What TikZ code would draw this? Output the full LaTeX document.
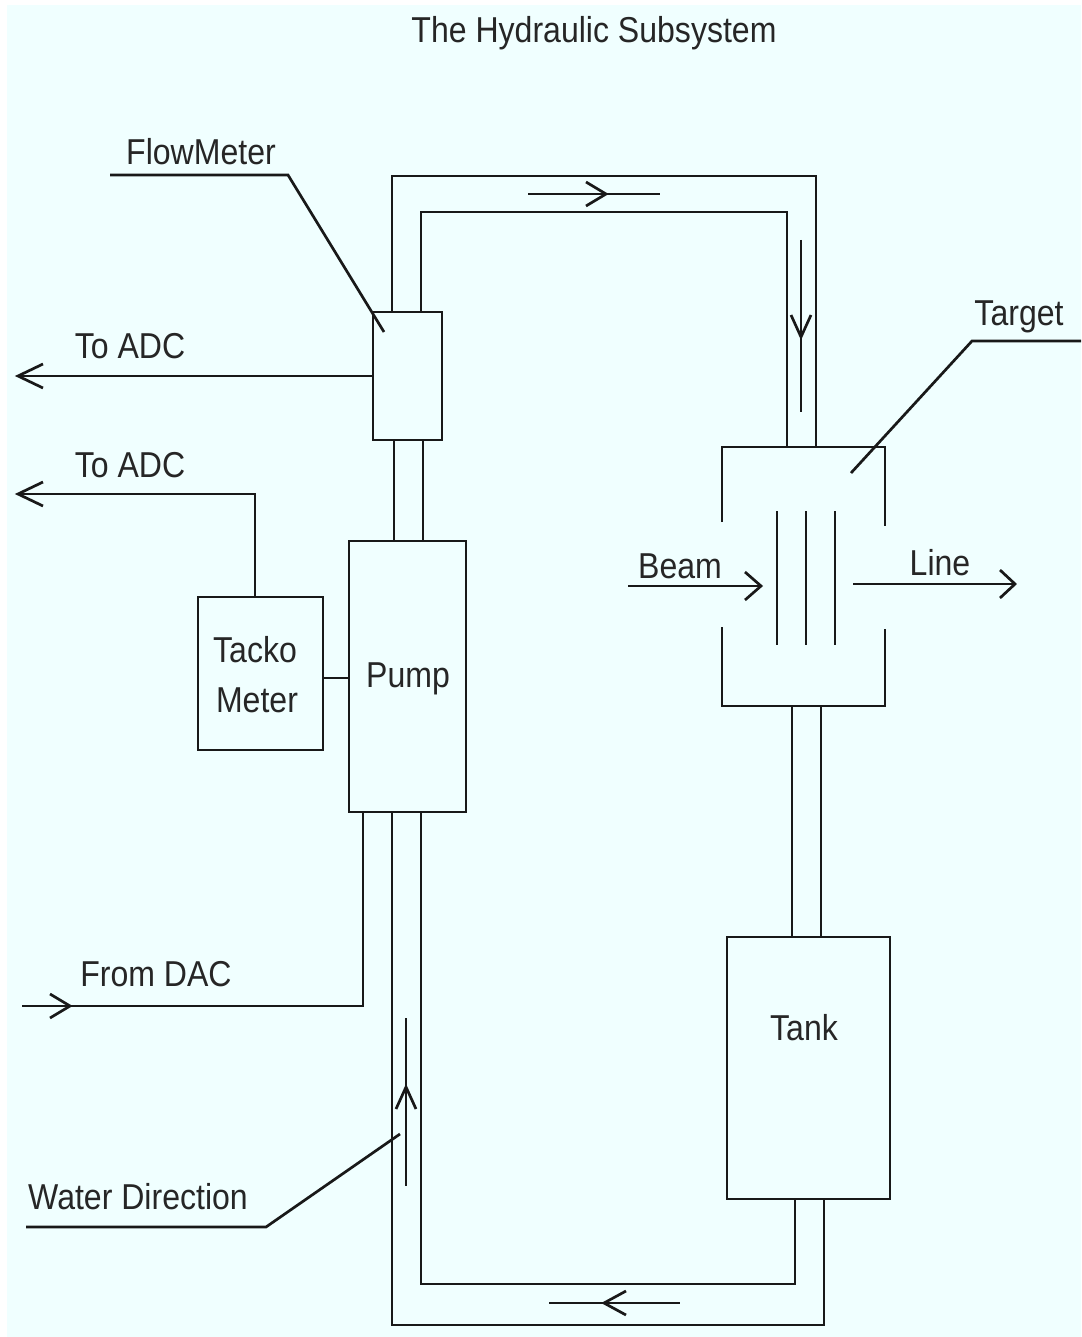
\documentclass[tikz,border=0pt]{standalone}
\usepackage{fontspec}
\setmainfont{Liberation Sans}
\usetikzlibrary{calc}
\definecolor{bgc}{HTML}{F0FFFF}
\tikzset{
  x=1pt,y=-1pt,
  ln/.style={draw=black!90,line width=2.7pt},
  boxn/.style={ln,anchor=north west,inner sep=0pt,outer sep=0pt},
  lbl/.style={font=\fontsize{36}{40}\selectfont,text=black!85,inner sep=0pt,anchor=base,xscale=.89},
  vee/.style={line width=2.7pt,draw=black!90}
}
\newcommand{\veetip}[3]{% tip point, dx, dy
  \draw[vee] ($(#1)+(#2,-#3)$) -- (#1) -- ($(#1)+(#2,#3)$);}
\newcommand{\veetipv}[3]{%
  \draw[vee] ($(#1)+(-#3,#2)$) -- (#1) -- ($(#1)+(#3,#2)$);}
\begin{document}
\begin{tikzpicture}
\useasboundingbox (0,0) rectangle (1081,1337);
\fill[white] (0,0) rectangle (1081,1337);
\fill[bgc] (7,5) rectangle (1081,1337);
% boxes
\node[boxn,minimum width=69pt,minimum height=128pt] (flow) at (373,312) {};
\node[boxn,minimum width=117pt,minimum height=271pt] (pump) at (349,541) {};
\node[boxn,minimum width=125pt,minimum height=153pt] (tacko) at (198,597) {};
\node[boxn,minimum width=163pt,minimum height=262pt] (tank) at (727,937) {};
% labels
\node[lbl] (title) at (594,43) {The Hydraulic Subsystem};
\node[lbl] (lflow) at (201,165) {FlowMeter};
\node[lbl] (ladc1) at (130,358) {To ADC};
\node[lbl] (ladc2) at (130,477) {To ADC};
\node[lbl] (ltarget) at (1019,325) {Target};
\node[lbl] (lbeam) at (680,578) {Beam};
\node[lbl] (lline) at (940,575) {Line};
\node[lbl] (lpump) at (408,687) {Pump};
\node[lbl] (ltacko) at (255,662) {Tacko};
\node[lbl] (lmeter) at (257,712) {Meter};
\node[lbl] (ldac) at (156,986) {From DAC};
\node[lbl] (ltank) at (804,1040) {Tank};
\node[lbl] (lwater) at (138,1209) {Water Direction};
% target vessel
\coordinate (tTL) at (722,447); \coordinate (tTR) at (885,447);
\coordinate (tBL) at (722,706); \coordinate (tBR) at (885,706);
\draw[ln] (722,522) -- (tTL) -- (tTR) -- (885,526);
\draw[ln] (722,627) -- (tBL) -- (tBR) -- (885,629);
\draw[ln] (777,511) -- (777,645);
\draw[ln] (806,511) -- (806,645);
\draw[ln] (835,511) -- (835,645);
% outer & inner pipes top
\coordinate (p1) at (392,312); \coordinate (p2) at (392,176);
\coordinate (p3) at (816,176); \coordinate (p4) at (816,447);
\coordinate (q1) at (421,312); \coordinate (q2) at (421,212);
\coordinate (q3) at (787,212); \coordinate (q4) at (787,447);
\draw[ln] (p1) -- (p2) -- (p3) -- (p4);
\draw[ln] (q1) -- (q2) -- (q3) -- (q4);
% flow-pump pipe
\draw[ln] (394,441) -- (394,541);
\draw[ln] (423,441) -- (423,541);
% target-tank
\draw[ln] (792,706) -- (792,937);
\draw[ln] (821,706) -- (821,937);
% bottom loop
\draw[ln] (392,813) -- (392,1325) -- (824,1325) -- (824,1200);
\draw[ln] (421,813) -- (421,1284) -- (795,1284) -- (795,1200);
% flow arrows
\coordinate (a1) at (606,194);
\draw[ln] (528,194) -- (660,194);
\veetip{a1}{-20}{12}
\coordinate (a2) at (801,337);
\draw[ln] (801,240) -- (801,412);
\veetipv{a2}{-22}{10}
\coordinate (a3) at (406,1087);
\draw[ln] (406,1018) -- (406,1186);
\veetipv{a3}{22}{10}
\coordinate (a4) at (604,1303);
\draw[ln] (549,1303) -- (680,1303);
\veetip{a4}{22}{12}
% signal lines
\coordinate (adc1) at (18,376);
\draw[ln] (flow.west |- adc1) -- (adc1);
\veetip{adc1}{25}{12}
\coordinate (adc2) at (18,494); \coordinate (adc2c) at (255,494);
\draw[ln] (tacko.north -| adc2c) -- (adc2c) -- (adc2);
\veetip{adc2}{25}{12}
\draw[ln] (tacko.east |- 0,678) -- (pump.west |- 0,678);
\coordinate (dac) at (70,1006); \coordinate (dacs) at (22,1006); \coordinate (dacc) at (363,1006);
\draw[ln] (363,813) -- (dacc) -- (dacs);
\veetip{dac}{-20}{12}
% beam, line
\coordinate (beamS) at (628,586); \coordinate (beamT) at (761,586);
\draw[ln] (beamS) -- (beamT);
\veetip{beamT}{-16}{14}
\coordinate (lineS) at (853,584); \coordinate (lineT) at (1015,584);
\draw[ln] (lineS) -- (lineT);
\veetip{lineT}{-15}{14}
% leaders
\coordinate (fl0) at (110,175); \coordinate (fl1) at (288,175); \coordinate (fl2) at (384,332);
\draw[ln] (fl0) -- (fl1) -- (fl2);
\coordinate (tg0) at (1081,341); \coordinate (tg1) at (972,341); \coordinate (tg2) at (851,473);
\draw[ln] (tg0) -- (tg1) -- (tg2);
\coordinate (wd0) at (26,1227); \coordinate (wd1) at (266,1227); \coordinate (wd2) at (400,1134);
\draw[ln] (wd0) -- (wd1) -- (wd2);
\end{tikzpicture}
\end{document}
